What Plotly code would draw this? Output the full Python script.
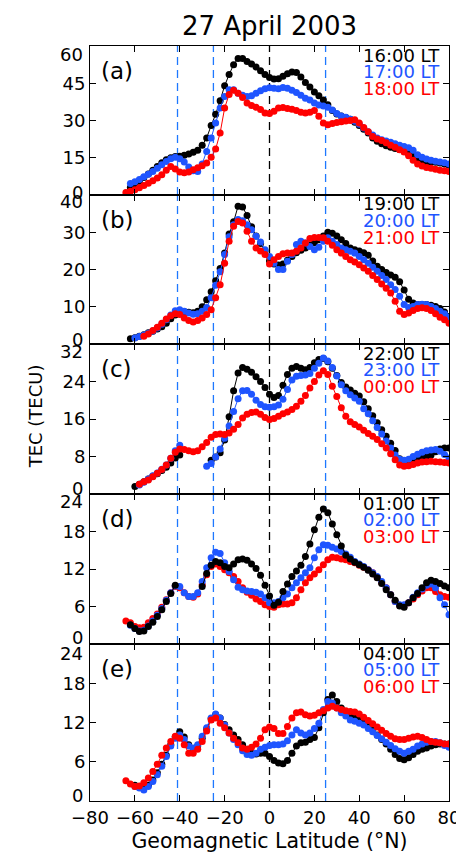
import plotly.graph_objects as go
from plotly.subplots import make_subplots

STEP = 2  # latitude spacing of samples (deg)

# ---------------- Panel (a) ----------------
a_black_start = -62
a_black = [3.0, 4.0, 5.5, 7.0, 8.5, 10.0, 11.5, 13.0, 14.2, 15.0, 15.5, 15.6, 16.0, 16.5, 17.2, 18.0,
           20.0, 23.0, 28.0, 32.5, 38.0, 44.0, 48.5, 52.5, 55.0, 55.0, 53.8, 52.8, 51.5, 50.0, 48.5,
           47.3, 46.7, 46.8, 47.8, 48.8, 49.5, 49.3, 47.5, 45.3, 43.5, 41.5, 40.0, 38.3, 36.3, 34.0,
           32.6, 31.8, 31.2, 30.5, 29.3, 28.0, 26.5, 25.0, 23.0, 21.6, 20.6, 19.8, 19.2, 18.7, 18.3,
           17.5, 16.5, 15.5, 14.5, 13.6, 13.4, 13.3, 13.2, 12.9, 12.5, 12.0]
a_blue_start = -62
a_blue = [4.6, 5.3, 6.2, 7.3, 8.4, 9.5, 10.8, 12.2, 13.5, 14.6, 15.2, 14.6, 13.3, 11.3, 9.8, 9.5,
          12.5, 17.5, 23.0, 29.0, 35.0, 39.7, 42.4, 42.4, 41.0, 40.2, 39.7, 40.0, 41.0, 42.0, 42.8,
          43.2, 43.0, 42.8, 43.3, 43.0, 42.2, 41.3, 40.2, 39.0, 38.3, 37.0, 36.2, 35.8, 35.3, 34.2,
          32.8, 31.8, 31.3, 30.5, 29.7, 28.5, 27.0, 25.5, 24.2, 23.0, 22.2, 21.7, 21.2, 20.6, 20.0,
          19.5, 19.0, 18.0, 16.2, 15.2, 14.5, 14.0, 13.6, 13.3, 13.0, 12.5]
a_red_start = -64
a_red = [1.0, 1.5, 2.1, 2.9, 3.8, 4.7, 5.7, 6.8, 8.2, 10.0, 11.5, 10.5, 9.3, 9.0, 9.3, 10.2, 11.0,
         11.8, 12.9, 15.2, 18.5, 25.0, 35.0, 40.5, 42.2, 41.0, 39.3, 37.0, 36.0, 35.3, 34.4, 33.0,
         32.8, 33.7, 35.0, 35.2, 34.8, 34.5, 34.0, 33.3, 33.0, 33.3, 34.0, 31.7, 29.0, 28.3, 28.8,
         29.2, 29.5, 29.8, 30.0, 30.3, 29.0, 27.2, 25.5, 23.6, 22.6, 21.9, 21.0, 20.0, 19.2, 18.2,
         17.3, 15.8, 14.0, 12.5, 11.7, 11.1, 10.8, 10.4, 10.0, 9.8, 9.5]

# ---------------- Panel (b) ----------------
b_black_start = -62
b_black = [1.4, 1.7, 2.1, 2.5, 3.0, 3.4, 4.0, 4.6, 5.6, 6.8, 7.8, 8.5, 8.7, 8.5, 8.4, 8.8, 10.0,
           11.9, 14.0, 17.0, 20.3, 24.4, 29.5, 32.8, 37.0, 36.8, 34.5, 31.5, 29.0, 27.0, 25.0,
           22.3, 21.5, 21.2, 21.5, 22.5, 23.5, 24.5, 25.2, 25.8, 26.5, 27.2, 28.0, 29.0, 30.0,
           29.7, 29.0, 28.0, 27.0, 25.8, 25.3, 25.0, 24.5, 23.8, 22.3, 20.9, 20.0, 19.2, 18.5,
           17.9, 16.7, 14.5, 12.0, 11.0, 10.6, 10.6, 10.6, 10.4, 10.1, 9.5, 8.6, 7.4]
b_blue_start = -60
b_blue = [1.6, 2.0, 2.4, 2.9, 3.5, 4.3, 5.3, 6.5, 7.8, 8.9, 9.2, 8.8, 8.3, 8.0, 8.1, 8.8, 9.8,
          12.4, 15.8, 19.4, 24.0, 28.8, 32.0, 33.4, 33.1, 32.0, 30.7, 28.9, 27.4, 25.3, 23.5,
          21.7, 20.0, 20.0, 22.2, 24.0, 26.7, 27.6, 27.1, 26.2, 25.3, 26.0, 27.6, 28.5, 27.6,
          26.7, 25.8, 25.3, 24.9, 24.4, 23.5, 22.6, 21.7, 20.6, 19.5, 18.4, 17.3, 15.9, 14.6,
          12.8, 10.6, 9.8, 10.1, 10.6, 10.7, 10.6, 10.1, 9.5, 8.8, 8.1, 7.2]
b_red_start = -56
b_red = [2.1, 2.7, 3.6, 4.5, 5.6, 6.7, 7.6, 8.1, 7.9, 7.0, 6.3, 5.9, 6.3, 7.0, 7.9, 9.2, 12.4,
         15.9, 21.7, 27.6, 31.6, 32.9, 32.5, 30.3, 27.6, 25.8, 25.0, 24.0, 21.5, 22.6, 23.5,
         24.2, 24.4, 24.4, 24.9, 25.8, 27.1, 28.3, 28.6, 28.6, 28.5, 27.6, 26.5, 25.3, 24.4,
         23.5, 22.6, 22.0, 21.3, 20.4, 19.5, 18.4, 17.3, 16.1, 15.0, 13.7, 11.5, 8.8, 7.9, 8.3,
         9.0, 9.5, 9.7, 9.5, 9.0, 8.1, 7.2, 6.5, 5.6]

# ---------------- Panel (c) ----------------
c_black_start = -60
c_black = [1.6, 2.1, 2.6, 3.2, 3.8, 4.3, 5.0, 5.7, 6.6, 7.7, 8.3,
           None, None, None, None, None, None,
           7.2, 7.9, 8.8, 11.5, 16.5, 22.0, 25.8, 27.0, 26.6, 26.0, 25.0, 24.0, 22.7, 21.3,
           20.6, 21.0, 23.2, 25.5, 26.8, 27.2, 26.8, 26.5, 27.0, 28.0, 28.7, 28.9, 28.2, 26.8,
           25.3, 23.8, 22.8, 22.2, 21.5, 20.9, 19.7, 18.2, 16.7, 15.2, 13.7, 12.3, 10.8, 9.3,
           7.5, 6.9, 6.8, 7.3, 7.7, 7.9, 8.0, 8.3, 9.0, 9.6, 9.8, 9.8]
c_blue_start = -58
c_blue = [1.9, 2.5, 3.2, 3.9, 4.5, 5.3, 6.2, 7.6, 9.2, 10.4,
          None, None, None, None, None,
          5.9, 6.5, 7.9, 9.6, 11.9, 14.5, 17.6, 20.3, 22.0, 22.1, 21.3, 20.0, 19.1, 18.6, 18.5,
          18.6, 19.0, 20.2, 22.3, 24.3, 25.1, 25.3, 25.4, 25.7, 26.8, 27.9, 29.0, 28.4, 27.0,
          25.2, 23.3, 22.0, 21.2, 20.5, 19.8, 18.2, 17.1, 15.6, 14.2, 12.8, 11.3, 9.8, 8.3, 7.4,
          7.2, 7.4, 8.0, 8.5, 8.9, 9.2, 9.4, 9.5, 9.1, 8.4, 7.7]
c_red_start = -58
c_red = [2.1, 2.6, 3.0, 3.7, 4.4, 5.2, 6.2, 7.6, 8.9, 9.6, 9.5, 9.2, 9.0, 9.2, 10.1, 11.0, 12.1,
         12.7, 12.8, 12.7, 13.0, 13.8, 14.8, 16.2, 17.0, 17.4, 17.5, 17.0, 16.3, 15.9, 16.1,
         16.6, 17.1, 17.5, 18.0, 18.7, 19.8, 21.0, 22.6, 24.0, 25.4, 26.3, 25.5, 23.0, 20.8,
         18.4, 16.6, 15.4, 14.8, 14.3, 13.6, 12.9, 12.3, 11.6, 10.7, 9.8, 8.6, 7.3, 6.2, 5.9,
         6.0, 6.3, 6.6, 6.8, 6.9, 7.0, 6.9, 6.8, 6.7, 6.6]

# ---------------- Panel (d) ----------------
d_black_start = -62
d_black = [3.1, 2.5, 2.0, 2.1, 2.8, 3.5, 4.4, 5.5, 6.8, 8.1, 9.4,
           None, None, None, None, None,
           9.2, 11.3, 12.6, 13.2, 13.0, 12.4, 12.2, 12.8, 13.5, 13.6, 13.4, 12.8, 12.1, 11.0,
           9.4, 7.7, 6.2, 6.7, 8.4, 9.6, 10.8, 11.7, 12.6, 14.0, 16.0, 18.3, 20.3, 21.6, 21.0,
           19.2, 17.5, 15.7, 14.2, 13.6, 13.1, 12.7, 12.3, 11.8, 11.2, 10.6, 9.7, 8.7, 7.9, 7.0,
           6.1, 5.9, 6.6, 7.4, 8.1, 9.0, 9.8, 10.2, 10.0, 9.7, 9.3, 9.0]
d_blue_start = -62
d_blue = [3.0, 2.5, 2.1, 2.2, 2.9, 3.7, 4.6, 5.7, 7.0, 8.2, 9.3, 9.2, 8.2, 7.6, 7.6, 8.2, 10.0,
          12.2, 13.8, 14.7, 14.5, 13.0, 11.6, 10.3, 9.1, 8.7, 8.5, 8.4, 8.3, 8.0, 7.4, 6.6, 6.6,
          6.8, 7.4, 8.0, 9.0, 9.8, 10.6, 11.4, 12.2, 13.8, 15.1, 15.9, 15.8, 15.5, 15.2, 14.8,
          14.4, 13.9, 13.2, 12.8, 12.4, 11.9, 11.4, 10.8, 10.0, 9.0, 7.9, 6.8, 6.3, 6.3, 6.6,
          7.5, 8.2, 8.8, 9.4, 9.6, 9.0, 7.4, 6.3, 4.7]
d_red_start = -64
d_red = [3.7, 3.4, 2.8, 2.6, 2.7, 3.4, 4.1, 4.8, 5.9, 7.1, 8.2, 9.2, 9.0, 8.2, 7.6, 7.5, 8.0,
         9.5, 11.1, 12.4, 12.8, 12.4, 11.9, 11.4, 10.8, 10.0, 9.0, 8.3, 7.8, 7.2, 6.8, 6.3, 6.0,
         5.9, 6.3, 6.4, 6.4, 6.6, 7.4, 8.7, 9.8, 10.6, 11.2, 11.9, 12.7, 13.5, 13.9, 13.8, 13.6,
         13.5, 13.2, 13.0, 12.6, 12.3, 11.9, 11.4, 10.7, 9.8, 9.0, 7.9, 6.8, 6.2, 6.2, 6.6, 7.2,
         7.9, 8.5, 9.0, 9.0, 8.4, 7.9, 7.6, 7.5]

# ---------------- Panel (e) ----------------
e_black_start = -60
e_black = [2.4, 2.2, 2.0, 2.4, 3.2, 4.3, 5.6, 7.0, 8.6, 9.8, 10.6, 9.8, 8.6, 8.0, 8.4, 9.6, 11.0,
           12.6, 13.2, 12.7, 11.7, 10.9, 10.1, 9.4, 8.6, 7.9, 7.3, 7.2, 7.3, 7.3, 6.8, 6.2, 5.8,
           5.7, 6.2, 7.3, 8.4, 8.9, 9.0, 9.4, 9.7, 11.2, 13.5, 15.5, 16.2, 15.2, 14.2, 13.5, 13.0,
           12.7, 12.4, 12.1, 11.6, 10.9, 10.1, 9.4, 8.7, 7.9, 7.1, 6.5, 6.3, 6.6, 7.1, 7.6, 7.9,
           8.1, 8.4, 8.6, 8.7, 8.7, 8.7]
e_blue_start = -60
e_blue = [2.2, 2.0, 1.7, 2.2, 3.0, 4.0, 5.3, 6.8, 8.4, 9.6, 10.1, 9.4, 8.4, 8.1, 8.6, 9.9, 11.2,
          12.7, 13.3, 12.7, 11.6, 10.4, 9.4, 8.6, 7.7, 7.1, 7.0, 7.3, 7.9, 8.2, 8.5, 8.6, 8.6,
          8.7, 9.2, 10.1, 10.9, 10.4, 10.1, 10.4, 11.1, 11.9, 14.0, 15.2, 15.0, 14.2, 13.5, 13.0,
          12.4, 12.2, 11.9, 11.6, 11.1, 10.6, 10.0, 9.5, 9.0, 8.5, 8.0, 7.6, 7.3, 7.6, 7.9, 8.4,
          8.7, 9.0, 9.1, 9.1, 8.9, 8.5, 8.2]
e_red_start = -64
e_red = [3.1, 2.6, 2.2, 2.3, 2.8, 3.5, 4.5, 5.6, 7.0, 8.1, 9.1, 9.9, 9.6, 8.6, 7.3, 7.3, 7.9,
         9.1, 10.7, 12.4, 12.7, 11.9, 11.2, 10.4, 9.6, 8.9, 8.1, 7.9, 8.2, 8.7, 9.6, 10.9, 11.3,
         11.1, 10.3, 10.3, 11.4, 12.7, 13.5, 13.6, 13.2, 13.0, 13.1, 13.5, 13.8, 14.2, 14.5,
         14.2, 14.0, 13.8, 13.7, 13.6, 13.3, 12.8, 12.3, 11.8, 11.3, 10.8, 10.3, 9.9, 9.5, 9.4,
         9.4, 9.6, 9.8, 9.9, 9.7, 9.4, 9.1, 9.0, 8.9, 8.7, 8.7]

panel_letters = ["a", "b", "c", "d", "e"]
panel_times = [["16:00 LT", "17:00 LT", "18:00 LT"],
               ["19:00 LT", "20:00 LT", "21:00 LT"],
               ["22:00 LT", "23:00 LT", "00:00 LT"],
               ["01:00 LT", "02:00 LT", "03:00 LT"],
               ["04:00 LT", "05:00 LT", "06:00 LT"]]
y_max = [60, 40, 32, 24, 24]
y_step = [15, 10, 8, 6, 6]
x_ticks = [-80, -60, -40, -20, 0, 20, 40, 60, 80]
ref_lats = [-41, -25, 0, 25]
ref_colors = ["#1e78ff", "#1e78ff", "#000000", "#1e78ff"]

series = [
    [(a_black_start, a_black), (a_blue_start, a_blue), (a_red_start, a_red)],
    [(b_black_start, b_black), (b_blue_start, b_blue), (b_red_start, b_red)],
    [(c_black_start, c_black), (c_blue_start, c_blue), (c_red_start, c_red)],
    [(d_black_start, d_black), (d_blue_start, d_blue), (d_red_start, d_red)],
    [(e_black_start, e_black), (e_blue_start, e_blue), (e_red_start, e_red)],
]
colors = ["#000000", "#1f55ff", "#ff0000"]
draw_order = [[0, 1, 2], [0, 1, 2], [0, 1, 2], [2, 1, 0], [0, 1, 2]]

FONT = "DejaVu Sans"
W, H = 464, 854
L, R, T, B = 82, 14, 38, 61
px_edges = [38, 187, 336, 486, 636, 793]
ph = H - T - B
top_shift = [8, 7, 7, 7, 9]     # px, label of top tick drawn this far below its tick
bot_shift = [3, 5, 6, 7, 6]     # px, label of bottom tick drawn this far above its tick

fig = make_subplots(rows=5, cols=1, shared_xaxes=False, vertical_spacing=0)

tickfont = dict(family=FONT, size=18, color="black")
for i in range(5):
    row = i + 1
    for k in draw_order[i]:
        start, vals = series[i][k]
        lats = [start + STEP * j for j in range(len(vals))]
        fig.add_trace(go.Scatter(
            x=lats, y=vals, mode="lines+markers",
            line=dict(color=colors[k], width=1),
            marker=dict(color=colors[k], size=7, line=dict(width=0)),
            showlegend=False, hoverinfo="skip"), row=row, col=1)
    top = (H - B - px_edges[i]) / ph
    bot = (H - B - px_edges[i + 1]) / ph
    yname = "yaxis" if i == 0 else f"yaxis{i+1}"
    xname = "xaxis" if i == 0 else f"xaxis{i+1}"
    xr = "x" if i == 0 else f"x{i+1}"
    yr = "y" if i == 0 else f"y{i+1}"
    tv = list(range(0, y_max[i] + 1, y_step[i]))
    tt = [""] + [str(v) for v in tv[1:-1]] + [""]
    fig.layout[yname].update(
        domain=[bot, top], range=[0, y_max[i]], tickvals=tv, ticktext=tt,
        ticks="inside", ticklen=6, tickwidth=1, tickcolor="black",
        showline=True, linecolor="black", linewidth=1, mirror="ticks",
        showgrid=False, zeroline=False, tickfont=tickfont)
    # end-of-axis tick labels, nudged inward like the original
    for val, ys in [(tv[-1], -top_shift[i]), (tv[0], bot_shift[i])]:
        fig.add_annotation(text=str(val), xref=f"{xr} domain", yref=yr, x=0, y=val,
                           xanchor="right", yanchor="middle", xshift=-5, yshift=ys,
                           showarrow=False, font=tickfont)
    fig.layout[xname].update(
        range=[-80, 80], tickvals=x_ticks,
        ticks="inside", ticklen=6, tickwidth=1, tickcolor="black",
        showline=True, linecolor="black", linewidth=1, mirror="ticks",
        showgrid=False, zeroline=False, showticklabels=(i == 4), tickfont=tickfont)
    for lat, c in zip(ref_lats, ref_colors):
        fig.add_shape(type="line", xref=xr, yref=f"{yr} domain", x0=lat, x1=lat, y0=0, y1=1,
                      line=dict(color=c, width=1.3, dash="8px,5px"), layer="below")
    fig.add_annotation(text=f"({panel_letters[i]})", xref=f"{xr} domain", yref=f"{yr} domain",
                       x=0, y=1, xanchor="left", yanchor="middle", xshift=9, yshift=-25,
                       showarrow=False, font=dict(family=FONT, size=23, color="black"))
    for k in range(3):
        fig.add_annotation(text=panel_times[i][k], xref=f"{xr} domain", yref=f"{yr} domain",
                           x=1, y=1, xanchor="right", yanchor="middle", xshift=-7,
                           yshift=-(9 + 16.7 * k), showarrow=False,
                           font=dict(family=FONT, size=18, color=colors[k]))

fig.layout.xaxis5.update(title=dict(text="Geomagnetic Latitude (°N)",
                                    font=dict(family=FONT, size=20.5, color="black"), standoff=7))

fig.add_annotation(text="TEC (TECU)", xref="paper", yref="paper", x=(27 - L) / (W - L - R),
                   y=(H - B - 408) / ph, xanchor="center", yanchor="middle", textangle=-90,
                   showarrow=False, font=dict(family=FONT, size=18, color="black"))

fig.update_layout(
    width=W, height=H, margin=dict(l=L, r=R, t=T, b=B),
    paper_bgcolor="white", plot_bgcolor="white",
    title=dict(text="27 April 2003", x=0.5, xref="paper", y=1 - 18 / H, yanchor="middle",
               font=dict(family=FONT, size=26, color="black")),
    showlegend=False,
)

fig.write_html("out.html")
